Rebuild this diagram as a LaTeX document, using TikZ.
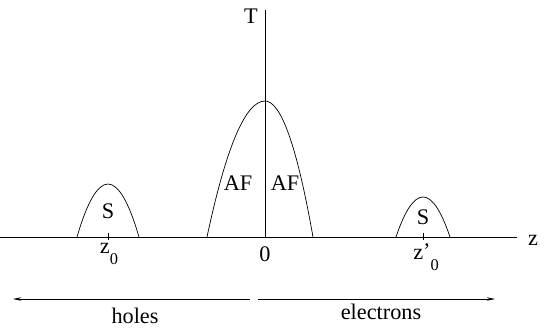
\documentclass[tikz,border=0pt]{standalone}
\usepackage{fontspec}
\setmainfont{Liberation Serif}
\usetikzlibrary{arrows.meta}

\begin{document}
\begin{tikzpicture}[
  x=0.03cm,y=-0.03cm,
  font=\fontsize{19}{22}\selectfont,
  axis/.style={line width=0.6pt},
  dome/.style={line width=0.6pt},
  carrier/.style={line width=0.6pt,-{Stealth[length=7pt,width=3pt]}},
  lbl/.style={inner sep=1pt},
]
\useasboundingbox (0,0) rectangle (546,327);

%% ===== Axes ==================================================================
\coordinate (origin) at (265,237);
\coordinate (zend) at (517,237);
\coordinate (zstart) at (0,237);
\coordinate (ttop) at (265,10);
\draw[axis] (zstart) -- (zend);
\draw[axis] (origin) -- (ttop);
\node[lbl] (tlabel) at (251,16) {T};
\node[lbl] (zlabel) at (533,240) {z};
\node[lbl] (zero) at (265,254) {0};

%% ===== AF dome ===============================================================
\draw[dome] (207,237) .. controls (226.3,146.3) and (245.7,101) .. (265,101)
  .. controls (281,101) and (297,146.3) .. (313,237);
\node[lbl] (afleft) at (238,183) {AF};
\node[lbl] (afright) at (285,183) {AF};

%% ===== S dome (holes) ========================================================
\draw[dome] (77,237) .. controls (87.3,201.7) and (97.7,184) .. (108,184)
  .. controls (118.3,184) and (128.7,201.7) .. (139,237);
\node[lbl] (sleft) at (108,211) {S};
\coordinate (tickl) at (108,233);
\draw[axis] (tickl) -- ++(0,7);
\node[lbl,anchor=north] (zzero) at (109,242)
  {z\raisebox{-1.1ex}{\fontsize{14}{14}\selectfont 0}};

%% ===== S dome (electrons) ====================================================
\draw[dome] (396,237) .. controls (405,210.3) and (414,197) .. (423,197)
  .. controls (432,197) and (441,210.3) .. (450,237);
\node[lbl] (sright) at (423,217) {S};
\coordinate (tickr) at (423,233);
\draw[axis] (tickr) -- ++(0,7);
\node[lbl,anchor=north] (zprime) at (426,242)
  {z\raisebox{0.1ex}{'}\raisebox{-1.1ex}{\fontsize{14}{14}\selectfont 0}};

%% ===== Carriers ==============================================================
\coordinate (holesfrom) at (250,299);
\coordinate (holesto) at (13,299);
\coordinate (elecfrom) at (258,299);
\coordinate (electo) at (495,299);
\draw[carrier] (holesfrom) -- (holesto);
\draw[carrier] (elecfrom) -- (electo);
\node[lbl] (holes) at (135,316) {holes};
\node[lbl] (electrons) at (381,312) {electrons};

\end{tikzpicture}
\end{document}
